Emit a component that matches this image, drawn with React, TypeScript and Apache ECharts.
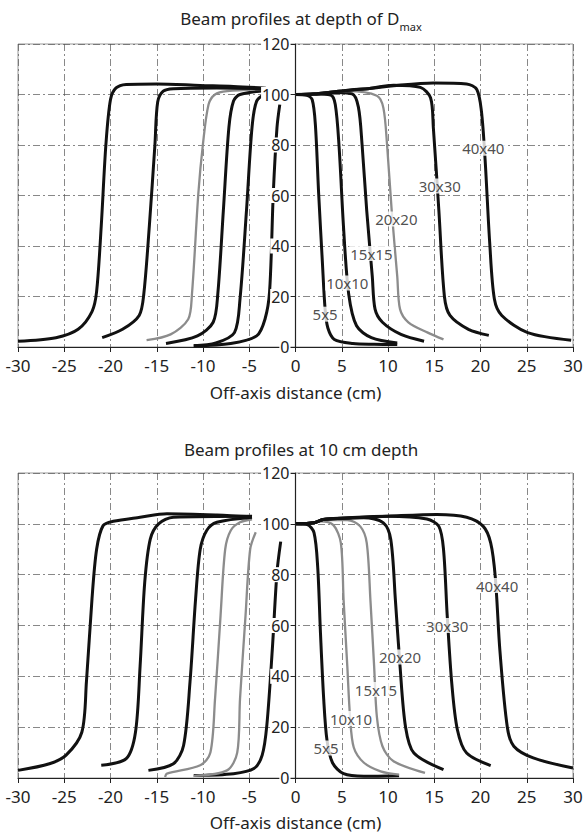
import { useEffect, useRef } from 'react';
import * as echarts from 'echarts';

type Pt = [number, number];

const FONT = '"Noto Sans", "DejaVu Sans", sans-serif';

const fieldSizes = ['5x5', '10x10', '15x15', '20x20', '30x30', '40x40'];

// ---- Beam profiles at depth of Dmax ----
const dmax5Left: Pt[] = [[-11, 0.5], [-7, 1.4], [-4.2, 4.4], [-3.3, 11], [-2.8, 22], [-2.4, 61], [-2, 87], [-1.7, 96]];
const dmax10Left: Pt[] = [[-11, 0.5], [-8.6, 1.6], [-6.6, 5.7], [-6, 19], [-5.3, 54], [-4.7, 87], [-4.2, 97.4], [-3.2, 100.5]];
const dmax15Left: Pt[] = [[-14, 1.4], [-10.6, 4.4], [-8.9, 9.8], [-8.4, 21], [-7.8, 54], [-7.2, 87], [-6.7, 97.4], [-6, 100], [-3.2, 101.6]];
const dmax20Left: Pt[] = [[-16.1, 2.7], [-13.5, 5], [-11.6, 11], [-11.2, 20.6], [-10.5, 61], [-10, 80.5], [-9.4, 96], [-8.7, 100], [-7.4, 101.3], [-3.2, 102.2]];
const dmax30Left: Pt[] = [[-20.9, 3.7], [-18.7, 7], [-16.9, 12.5], [-16.4, 21], [-15.8, 48], [-15.2, 80], [-14.9, 97], [-14.3, 101.3], [-13.2, 102.3], [-8.5, 102.6], [-3.2, 102.3]];
const dmax40Left: Pt[] = [[-30, 2.3], [-25.9, 3.7], [-23.5, 7], [-22, 14], [-21.5, 22], [-21, 48], [-20.5, 80], [-20, 98], [-19.4, 102.6], [-18.3, 104], [-15, 104.2], [-10.3, 103.6], [-6.7, 103.2], [-3.2, 102.5]];

const dmax5Right: Pt[] = [[0, 100], [1.2, 99.7], [1.8, 98], [2.15, 88], [2.5, 61], [2.9, 34], [3.2, 15], [3.5, 7.5], [4.2, 3], [6.2, 1.4], [8.5, 1.1], [11, 1]];
const dmax10Right: Pt[] = [[0, 100], [2, 100.2], [3.8, 99.8], [4.3, 96], [4.7, 80], [5.2, 47], [5.75, 21], [6.6, 8.4], [8.2, 3.7], [11, 1.6]];
const dmax15Right: Pt[] = [[0, 100], [2, 100.2], [3.8, 100.8], [6.1, 100.3], [6.8, 95], [7.2, 80], [7.7, 54], [8.3, 28], [8.6, 15], [9.4, 9.8], [11.4, 5], [13.9, 2.3]];
const dmax20Right: Pt[] = [[0, 100], [2, 100.2], [4, 101], [5.6, 101.3], [8.8, 99.5], [9.5, 94.7], [9.9, 80], [10.4, 54], [11, 28], [11.3, 15], [12.2, 9.8], [14.3, 5.7], [16, 3]];
const dmax30Right: Pt[] = [[0, 100], [2, 100.2], [4, 101], [6, 101.8], [8, 102.4], [10.6, 103.7], [13.5, 102.8], [14.6, 98.7], [14.9, 87], [15.5, 54], [16.1, 20], [16.7, 12.5], [18.7, 7], [20.9, 4.6]];
const dmax40Right: Pt[] = [[0, 100], [2, 100.2], [4, 101], [6, 101.8], [8, 102.4], [10.6, 103.5], [14.9, 104.6], [18.5, 104.2], [19.6, 102], [20.1, 93.4], [20.5, 74], [21, 41], [21.5, 19], [22.3, 12.5], [25.1, 5.7], [29.8, 2.7]];

const dmaxLabelPos: Pt[] = [[3.2, 13], [5.6, 25.3], [8.2, 37], [10.9, 50.7], [15.6, 63.8], [20.3, 78.7]];
const dmaxGrey = ['20x20'];

// ---- Beam profiles at 10 cm depth ----
const d10_5Left: Pt[] = [[-11, 1], [-6.7, 1.7], [-4.5, 3.7], [-3.6, 9], [-3.1, 20.7], [-2.5, 51], [-2, 81], [-1.6, 93]];
const d10_10Left: Pt[] = [[-11, 0.8], [-7.4, 3], [-6.3, 10], [-6, 31], [-5.4, 64], [-4.9, 90], [-4.3, 96.7]];
const d10_15Left: Pt[] = [[-14.1, 0.4], [-13.9, 1.7], [-10.3, 5], [-9.2, 10], [-8.7, 31], [-8.1, 64], [-7.6, 90], [-7, 97.4], [-6, 100.6], [-4.7, 101.8]];
const d10_20Left: Pt[] = [[-15.9, 3], [-13.2, 5.6], [-12.1, 12.8], [-11.4, 38], [-10.8, 70.5], [-10.3, 90], [-9.6, 97.4], [-8.5, 100.6], [-4.7, 102.6]];
const d10_30Left: Pt[] = [[-21, 5], [-18.3, 7.6], [-17.3, 18], [-16.8, 44], [-16.3, 77], [-15.7, 94], [-14.8, 100], [-13.2, 102.6], [-4.7, 103]];
const d10_40Left: Pt[] = [[-30, 3], [-26.6, 5.6], [-24.8, 9], [-23.1, 18], [-22.6, 38], [-22, 70.5], [-21.5, 90], [-20.8, 99.3], [-19.7, 101], [-16.8, 102.6], [-13.9, 104], [-8.5, 103.5], [-4.7, 102.8]];

const d10_5Right: Pt[] = [[0, 100], [1.26, 99.7], [2, 96.5], [2.4, 83], [2.7, 57], [3.05, 31], [3.4, 15], [4, 6], [5.2, 1.7], [7.4, 0.7], [11.2, 0.9]];
const d10_10Right: Pt[] = [[0, 100], [2, 100.4], [2.7, 101], [4.1, 99.5], [4.9, 92.5], [5.2, 70], [5.6, 44], [5.9, 24], [6.3, 12], [7.4, 6], [9.2, 2.6], [11.2, 1.3]];
const d10_15Right: Pt[] = [[0, 100], [2, 100.4], [3, 101.5], [5.6, 101.5], [7, 99], [7.7, 92.5], [8.1, 70], [8.5, 44], [8.8, 24], [9.4, 12.5], [10.6, 6.6], [14, 2]];
const d10_20Right: Pt[] = [[0, 100], [2, 100.4], [3, 101.7], [5, 102.2], [7.4, 102.4], [9.5, 100.4], [10.3, 93.8], [10.8, 70], [11.3, 44], [11.9, 20], [12.8, 9.8], [16, 3.3]];
const d10_30Right: Pt[] = [[0, 100], [2, 100.4], [3, 101.7], [5, 102.2], [9.9, 103], [14.2, 101.9], [15.5, 99], [16, 90], [16.4, 64], [16.9, 37], [17.5, 19], [18.5, 9.8], [21.1, 4.9]];
const d10_40Right: Pt[] = [[0, 100], [2, 100.4], [3, 101.7], [5, 102.2], [10, 103], [15.3, 103.7], [18.5, 102.6], [20.3, 99], [21.1, 92.5], [21.6, 79], [22.1, 50], [22.9, 20], [23.6, 12.5], [25.7, 7.9], [30, 3.9]];

const d10LabelPos: Pt[] = [[3.3, 11.8], [6, 23.4], [8.7, 34.8], [11.3, 47.6], [16.4, 60], [21.8, 75.7]];
const d10Grey = ['10x10', '15x15'];

const dmaxLeft = [dmax5Left, dmax10Left, dmax15Left, dmax20Left, dmax30Left, dmax40Left];
const dmaxRight = [dmax5Right, dmax10Right, dmax15Right, dmax20Right, dmax30Right, dmax40Right];
const d10Left = [d10_5Left, d10_10Left, d10_15Left, d10_20Left, d10_30Left, d10_40Left];
const d10Right = [d10_5Right, d10_10Right, d10_15Right, d10_20Right, d10_30Right, d10_40Right];

const gridDash = [7, 3, 2, 3];
const TXT = '#222';
const GRID_LEFT = 18;
const GRID_RIGHT = 10;
const GRID_W = 583 - GRID_LEFT - GRID_RIGHT;

function buildPanel(i: number, left: Pt[][], right: Pt[][], labels: Pt[], grey: string[]) {
  const series: any[] = [];
  fieldSizes.forEach((fs, k) => {
    const isGrey = grey.includes(fs);
    const ls = { color: isGrey ? '#8c8c8c' : '#111', width: isGrey ? 2.3 : 3 };
    [left[k], right[k]].forEach((d, side) => {
      series.push({
        type: 'line', name: fs + (side ? ' R' : ' L'), xAxisIndex: i, yAxisIndex: 2 * i,
        data: d, showSymbol: false, symbol: 'none', smooth: 0.3, lineStyle: ls, z: 2, silent: true,
      });
    });
  });
  series.push({
    type: 'scatter', xAxisIndex: i, yAxisIndex: 2 * i, symbolSize: 1, z: 5, silent: true,
    itemStyle: { color: 'rgba(0,0,0,0)' },
    data: labels.map((p, k) => ({ name: fieldSizes[k], value: p })),
    label: {
      show: true, position: 'inside', formatter: '{b}', color: TXT, fontSize: 15, fontFamily: FONT,
      backgroundColor: '#fff', padding: [0, 1],
    },
  });
  return series;
}

function xAxisFor(i: number, gap: number) {
  return {
    type: 'value', gridIndex: i, min: -30, max: 30, interval: 5,
    axisLine: { onZero: false, lineStyle: { color: '#222', width: 1.2 } },
    axisTick: { show: true, length: 5, lineStyle: { color: '#222' } },
    axisLabel: { fontSize: 17, color: TXT, margin: 10, fontFamily: FONT },
    splitLine: { show: true, lineStyle: { color: '#555', width: 0.7, type: gridDash } },
    name: 'Off-axis distance (cm)', nameLocation: 'middle', nameGap: gap,
    nameTextStyle: { fontSize: 17, color: TXT, fontFamily: FONT },
  };
}

function yAxesFor(i: number) {
  return [
    {
      type: 'value', gridIndex: i, min: 0, max: 120, interval: 20, position: 'left',
      axisLine: { show: false, onZero: false }, axisTick: { show: false }, axisLabel: { show: false },
      splitLine: { show: true, lineStyle: { color: '#555', width: 0.7, type: gridDash } },
    },
    {
      type: 'value', gridIndex: i, min: 0, max: 120, interval: 20, position: 'left', z: 10,
      offset: -GRID_W / 2,
      axisLine: { show: true, onZero: false, lineStyle: { color: '#222', width: 1.2 } },
      axisTick: { show: true, length: 5, lineStyle: { color: '#222' } },
      axisLabel: {
        fontSize: 16, lineHeight: 15, color: TXT, margin: 5, fontFamily: FONT,
        backgroundColor: '#fff', padding: [0, 1],
      },
      splitLine: { show: false },
    },
  ];
}

export default function App() {
  const ref = useRef<HTMLDivElement>(null);
  useEffect(() => {
    if (!ref.current) return;
    const chart = echarts.init(ref.current, undefined, { renderer: 'svg' });
    chart.setOption({
      animation: false,
      backgroundColor: '#fff',
      title: [
        {
          text: '{a|Beam profiles at depth of D}{b|max}', left: 296, top: 5, textAlign: 'center',
          textStyle: {
            fontWeight: 'normal',
            rich: {
              a: { fontSize: 17, color: TXT, fontFamily: FONT, fontWeight: 'normal', lineHeight: 21, verticalAlign: 'top' },
              b: { fontSize: 11, color: TXT, fontFamily: FONT, fontWeight: 'normal', lineHeight: 12, verticalAlign: 'top', padding: [11, 0, 0, 0] },
            },
          },
        },
        {
          text: 'Beam profiles at 10 cm depth', left: 296, top: 434, textAlign: 'center',
          textStyle: { fontSize: 17, lineHeight: 20, color: TXT, fontFamily: FONT, fontWeight: 'normal' },
        },
      ],
      grid: [
        { left: GRID_LEFT, right: GRID_RIGHT, top: 44, height: 303, show: true, borderColor: '#999', borderWidth: 1, containLabel: false, outerBoundsMode: 'none' },
        { left: GRID_LEFT, right: GRID_RIGHT, top: 473, height: 305, show: true, borderColor: '#999', borderWidth: 1, containLabel: false, outerBoundsMode: 'none' },
      ],
      xAxis: [xAxisFor(0, 37), xAxisFor(1, 36)],
      yAxis: [...yAxesFor(0), ...yAxesFor(1)],
      series: [
        ...buildPanel(0, dmaxLeft, dmaxRight, dmaxLabelPos, dmaxGrey),
        ...buildPanel(1, d10Left, d10Right, d10LabelPos, d10Grey),
      ],
    });
    return () => chart.dispose();
  }, []);
  return <div ref={ref} style={{ position: 'absolute', left: 0, top: 0, width: 583, height: 836 }} />;
}
